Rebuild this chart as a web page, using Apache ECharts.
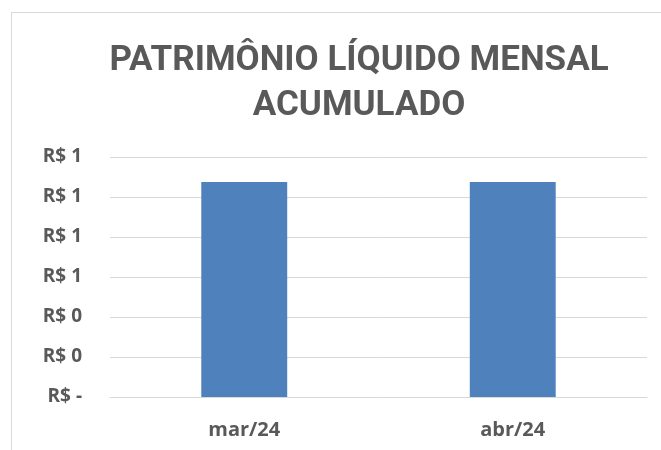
<!DOCTYPE html>
<html>
<head>
<meta charset="utf-8">
<script src="https://cdn.jsdelivr.net/npm/echarts@6/dist/echarts.min.js"></script>
<style>html,body{margin:0;padding:0;background:#fff;}#c{width:661px;height:450px;}</style>
</head>
<body>
<div id="c"></div>
<script>
const categories = ['mar/24', 'abr/24'];
const values = [1.075, 1.075];
const titleText = 'PATRIMÔNIO LÍQUIDO MENSAL\nACUMULADO';

const chart = echarts.init(document.getElementById('c'));
chart.setOption({
  animation: false,
  backgroundColor: '#fff',
  title: {
    text: titleText,
    left: 354, top: 34, textAlign: 'center',
    textStyle: { fontFamily: 'Roboto', fontWeight: 'bold', fontSize: 35, lineHeight: 45, color: '#595959' }
  },
  graphic: [
    { type: 'line', shape: { x1: 11, y1: 12.5, x2: 661, y2: 12.5 }, style: { stroke: '#d9d9d9', lineWidth: 1 } },
    { type: 'line', shape: { x1: 11.5, y1: 12, x2: 11.5, y2: 450 }, style: { stroke: '#d9d9d9', lineWidth: 1 } }
  ],
  grid: { left: 110, right: 14, top: 157, bottom: 53 },
  xAxis: {
    type: 'category', data: categories,
    axisLine: { lineStyle: { color: '#d9d9d9' } },
    axisTick: { show: false },
    axisLabel: { margin: 23, fontFamily: 'Open Sans', fontWeight: 'bold', fontSize: 20, color: '#595959' }
  },
  yAxis: {
    type: 'value', min: 0, max: 1.2, interval: 0.2,
    axisLine: { show: false }, axisTick: { show: false },
    splitLine: { lineStyle: { color: '#d9d9d9', width: 1 } },
    axisLabel: {
      margin: 28, fontFamily: 'Open Sans', fontWeight: 'bold', fontSize: 19, color: '#595959',
      formatter: v => v === 0 ? 'R$ -' : 'R$ ' + Math.round(v)
    }
  },
  series: [{
    type: 'bar', data: values, barWidth: '32%',
    itemStyle: { color: '#4f81bd' }
  }]
});
</script>
</body>
</html>
